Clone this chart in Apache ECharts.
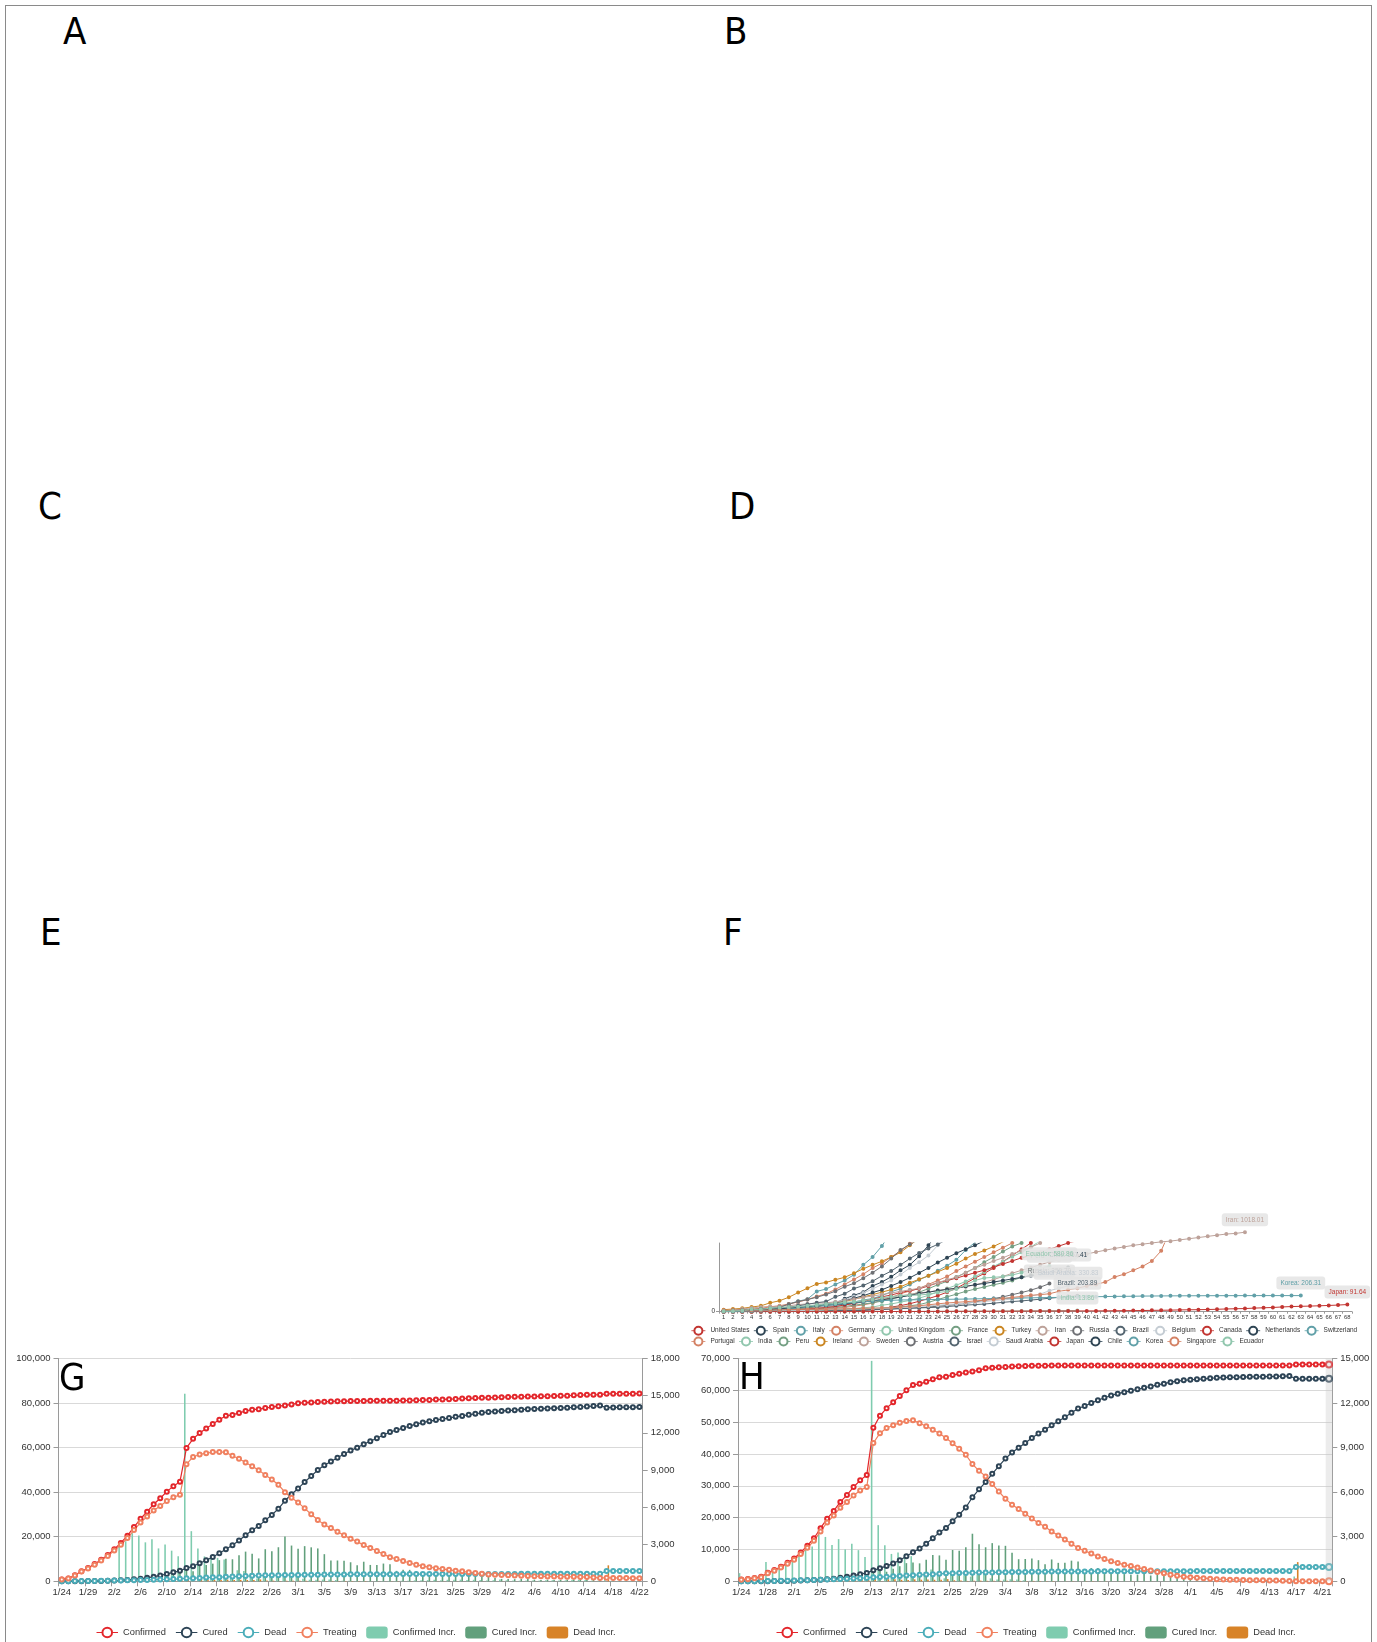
<!DOCTYPE html>
<html>
<head>
<meta charset="utf-8">
<script src="https://cdn.jsdelivr.net/npm/echarts@6/dist/echarts.min.js"></script>
<style>
html,body{margin:0;padding:0;background:#fff;}
#wrap{position:relative;width:1377px;height:1642px;overflow:hidden;background:#fff;}
.frame{position:absolute;left:5px;top:5px;width:1367px;height:1660px;border:1px solid #8a8a8a;box-sizing:border-box;}
.lt{position:absolute;font-family:'Liberation Sans Narrow','DejaVu Sans Condensed','Liberation Sans',sans-serif;font-size:38px;line-height:38px;color:#000;}
.ch{position:absolute;left:0;top:0;width:1377px;height:1642px;}
</style>
</head>
<body>
<div id="wrap">
  <div class="frame"></div>
  <div class="lt" style="left:63px;top:12px;">A</div>
  <div class="lt" style="left:724px;top:12px;">B</div>
  <div class="lt" style="left:38px;top:487px;">C</div>
  <div class="lt" style="left:729px;top:487px;">D</div>
  <div class="lt" style="left:40px;top:913px;">E</div>
  <div class="lt" style="left:723px;top:913px;">F</div>
  <div id="chartF" class="ch"></div>
  <div id="chartG" class="ch"></div>
  <div id="chartH" class="ch"></div>
  <div class="lt" style="left:59px;top:1358px;">G</div>
  <div class="lt" style="left:739px;top:1357px;">H</div>
</div>
<script>
const FONT = 'Liberation Sans, Arial, sans-serif';

// ---------- Panel G (national) cumulative values ----------
const gConfirmed = [835,1295,2759,4532,5993,7731,9714,11821,14413,17240,
  20475,24363,28064,31212,34602,37260,40235,42710,44731,59885,
  63935,66579,68589,70641,72533,74285,74679,75572,76397,77047,
  77264,77773,78183,78624,78955,79385,79967,80173,80303,80424,
  80566,80712,80818,80865,80907,80930,80961,80982,81007,81028,
  81058,81089,81133,81172,81247,81334,81429,81547,81626,81748,
  81864,81998,82109,82232,82338,82407,82496,82632,82712,82786,
  82838,82907,82972,83029,83108,83195,83257,83331,83452,83575,
  83680,83735,83784,84139,84173,84197,84214,84229,84262];
const gCured = [34,38,51,60,103,124,171,243,330,477,
  635,895,1157,1545,2056,2656,3290,4006,4752,5925,
  6740,8115,9440,10866,12576,14402,16183,18294,20692,22924,
  24772,27363,29788,32540,36165,39053,41679,44520,47265,49920,
  52112,53796,55477,57142,58680,59980,61562,62884,64205,65638,
  67012,67855,68790,69716,70540,71275,71870,72380,72845,73308,
  73808,74218,74765,75165,75645,75995,76265,76460,76640,76815,
  77010,77240,77370,77475,77605,77715,77820,77950,78100,78280,
  78450,78650,78900,77950,78020,78080,78130,78170,78210];
const gDead = [25,41,80,106,132,170,213,259,304,361,
  425,490,563,636,723,812,909,1017,1114,1368,
  1381,1524,1666,1772,1870,2006,2121,2239,2348,2445,
  2595,2666,2718,2747,2791,2838,2873,2915,2946,2984,
  3015,3045,3073,3100,3122,3139,3161,3172,3179,3192,
  3202,3217,3230,3241,3249,3252,3259,3266,3275,3282,
  3288,3294,3299,3302,3307,3311,3312,3319,3325,3329,
  3334,3337,3339,3339,3341,3343,3345,3348,3348,3350,
  3350,3350,3351,4641,4641,4641,4641,4641,4641];
const gIncrStart = 9;

// ---------- Panel H (Hubei) cumulative values ----------
const hConfirmed = [549,729,1052,1423,2714,3554,4586,5806,7153,9074,
  11177,13522,16678,19665,22112,24953,27100,29631,31728,33366,
  48206,51986,54406,56249,58182,59989,61682,62031,62662,63454,
  64084,64287,64786,65187,65596,65914,66337,66907,67103,67217,
  67332,67466,67592,67666,67707,67743,67760,67773,67781,67786,
  67790,67794,67798,67799,67799,67800,67800,67800,67800,67800,
  67801,67801,67801,67801,67801,67801,67801,67801,67802,67802,
  67802,67803,67803,67803,67803,67803,67803,67803,67803,67803,
  67803,67803,67803,67803,68128,68128,68128,68128,68128,68128];
const hCured = [31,32,42,44,47,80,90,116,166,215,
  295,396,520,633,817,1115,1439,1795,2222,2639,
  3441,4131,4774,5623,6639,7862,9128,10337,11788,13557,
  15299,16748,18854,20912,23200,26403,28895,31187,33757,36167,
  38556,40479,41966,43468,45011,46433,47585,49056,50298,51553,
  52943,54278,55094,55987,56883,57682,58382,58946,59433,59879,
  60324,60811,61201,61732,62098,62570,62889,63153,63326,63471,
  63612,63762,63945,64014,64073,64119,64187,64236,64264,64281,
  64338,64363,64435,64481,63616,63616,63616,63616,63616,63616];
const hDead = [24,39,52,76,100,125,162,204,249,294,
  350,414,479,549,618,699,780,871,974,1068,
  1310,1318,1457,1596,1696,1789,1921,2029,2144,2250,
  2346,2495,2563,2615,2641,2682,2727,2761,2803,2834,
  2871,2902,2931,2959,2986,3007,3024,3046,3056,3062,
  3075,3085,3099,3111,3122,3130,3132,3139,3144,3153,
  3160,3163,3169,3174,3177,3182,3186,3187,3193,3199,
  3203,3207,3210,3212,3212,3212,3213,3215,3216,3216,
  3219,3219,3219,3221,4512,4512,4512,4512,4512,4512];
const hIncrStart = 0;

// ---------- Panel F (cases per million, days since 100th case) ----------
const fDays = [1,2,3,4,5,6,7,8,9,10,11,12,13,14,15,16,17,18,19,20,21,22,23,24,25,26,27,28,29,30,31,32,33,34,
  35,36,37,38,39,40,41,42,43,44,45,46,47,48,49,50,51,52,53,54,55,56,57,58,59,60,61,62,63,64,65,66,67,68];
const fUnitedStates = [0.3,0.4,0.5,0.6,0.8,1.0,1.3,1.7,2.2,3.0,4.0,5.2,6.6,9,12,17,26,42,59,78,102,134,168,205,250,300,365,430,490,560,640,720,800,880,960,1040];
const fSpain = [2.6,3.6,4.6,5.5,8,10,13,22,36,47,64,97,110,166,210,250,330,380,447,530,600,710,850,1010];
const fItaly = [2.6,3.8,5.4,6.5,8,11,19,28,35,43,51,64,77,100,122,150,168,206,256,294,349,410,460,525,590,665,790,888,980];
const fGermany = [1.6,1.9,2.4,3.2,4.8,7.2,9.6,12.5,14,21,25,32,44,55,70,88,110,150,180,230,265,300,350,400,450,520,580,640,700,760,820,880,950];
const fUnitedKingdom = [1.7,2.4,3.1,4.1,4.8,6.2,7.0,8.9,12,17,20,24,29,35,40,50,60,83,99,123,144,174,209,255,297,340,388,450,510,580,640,705,760,825,911,990];
const fFrance = [1.5,2.9,3.2,3.8,6.3,9.6,14,17,22,25,34,43,54,67,84,98,115,135,160,190,215,250,295,345,390,445,500,560,635,700,770,836,880,955];
const fTurkey = [2.3,3.6,8,11,14,19,23,29,40,52,66,87,110,130,158,189,219,250,283,320,370,415,460,510,560,615,680,740,784,836,894,946,992,1050];
const fIran = [1.6,2.9,4.5,6.7,9.1,12.8,16.3,23,30.5,38.6,47.8,56,70,85,106,122,140,164,193,205,
  221,240,254,270,290,300,320,343,375,412,450,493,530,563,602,637,667,695,718,740,
  764,788,810,830,850,865,880,895,904,920,935,950,965,980,995,1003,1018.01];
const fRussia = [0.8,1.0,1.3,1.4,2.0,2.5,3.0,3.4,4.2,5.4,7.4,9.3,10.4,12.4,16,19,23.6,28,34,40,45,51,60,71,81,92,106,124,145,168,190,218,245,276,314,359.79];
const fBrazil = [0.57,0.95,1.0,1.4,1.9,2.8,3.8,4.8,7.5,9.4,11,13,14.6,17,18.5,21,27,32,35,41,45,48.7,53,57,66,75,85,91,98,109,120,130,138,149,160,173,183,194,203.89];
const fBelgium = [9.5,14,17.4,23,27,34,43,48.6,60,77,90,107,128,150,196,240,290,350,400,475,560,633,720,850,1035];
const fCanada = [3.1,5.2,6.2,8.5,11,13.6,16.7,21,26,34,40,54,65,86,106,130,160,190,214,245,270,293,330,370,400,430,465,500,532,570,610,650,690,720,760,800,840,880,910,960,1010];
const fNetherlands = [7.4,11,15,18,22,27,36,46,56,65,77,95,110,139,173,205,245,280,330,380,435,497,560,630,690,750,800,850,909,960];
const fSwitzerland = [13,17,24,31,39,43,57,100,135,160,260,290,350,400,474,600,700,842,1020];
const fPortugal = [10.9,16,24,32,43,62,76,99,125,155,195,230,285,350,414,480,560,620,700,780,870,960,1030];
const fIndia = [0.07,0.08,0.09,0.1,0.14,0.17,0.21,0.24,0.37,0.45,0.53,0.6,0.65,0.72,0.8,0.9,1.0,1.2,1.4,1.8,2.0,2.4,3.0,3.5,4.0,4.5,5.0,5.6,6.0,6.8,7.5,8.4,9.1,9.8,10.4,10.9,12.1,13.0,13.86];
const fPeru = [3.6,4.4,5.4,7.1,8.3,9.4,11.2,12,13,15,18.6,22,25.6,29.6,33,36.8,41,44.5,55,62,76,91,120,156,190,225,260,290,317,345,370,400,440,470,510,548.61];
const fIreland = [26,34,43,60,75,114,140,185,245,300,355,375,410,440,493,550,600,645,700,760,850,940,1010];
const fSweden = [13,20,35,48,60,67,70,76,91,100,110,115,125,140,160,185,200,220,240,260,280,300,340,370,410,440,500,560,600,650,690,740,780,825,880,950,1010];
const fAustria = [11.7,14,20,25,34,41,56,97,130,155,185,220,262,320,364,430,500,580,680,790,864,929,1000];
const fIsrael = [12,14,17,22,28,33,47,58,75,95,115,130,190,230,296,335,390,460,520,600,680,753,810,862,926,990];
const fSaudiArabia = [3,3.4,4.4,5.9,7.2,8.8,10,11,14,15.5,18,25,32,35,37,39,42,45,50,55,60,69,75,83,92,100,110,118,128,142,150,163,180,200,225,269,300,330.83];
const fJapan = [0.5,0.55,0.6,0.65,0.7,0.75,0.8,0.84,0.9,1.0,1.1,1.2,1.3,1.4,1.6,1.7,1.9,2.0,2.2,2.6,
  2.9,3.3,3.7,4.0,4.3,4.6,5.0,5.3,5.6,6.0,6.4,6.9,7.3,7.7,8.0,8.3,8.8,9.2,9.5,10,
  10.5,11,12,13,13.8,15,17.3,18.5,20,23,24.5,26,28,31,35,38,40,46,50,54,61,66,69,72,76,80,85,91.64];
const fChile = [8,10,12,18,23,28,32,33,48,60,72,80,93,102,112,126,137,152,170,188,208,234,250,270,285,300,325,345,362,380,400,420,440,460,480,505,528,567.41];
const fKorea = [2.0,3.8,6.0,8.6,12,17.6,24,34,44,57,72,82,96,108,119,127,136,142,146,150,
  152,153,155,157,159,160,162,164,167,169,171,173,175,177,180,182,183,185,187,190,
  192,194,196,197,198,200,201,202,203,203.5,204,204.5,205,205.3,205.6,205.8,206,206.1,206.2,206.25,206.28,206.3,206.31];
const fSingapore = [18.6,19,19.5,20,20.5,22,24,28,29,30,31,32,34,37,40,43,46,48,51,59,68,76,89,101,112,120,128,138,148,156,169,183,195,210,218,230,260,280,300,330,350,380,444,480,530,580,649,780,1050];
const fEcuador = [6.3,9.4,15,30,30,45,54,60,65,75,85,100,107,120,127,145,155,180,192,205,210,213,225,245,260,290,340,400,432,440,450,470,500,540,560,580.86];

const fCountries = ['United States','Spain','Italy','Germany','United Kingdom','France','Turkey','Iran','Russia','Brazil','Belgium','Canada','Netherlands','Switzerland',
  'Portugal','India','Peru','Ireland','Sweden','Austria','Israel','Saudi Arabia','Japan','Chile','Korea','Singapore','Ecuador'];
const fValues = [fUnitedStates,fSpain,fItaly,fGermany,fUnitedKingdom,fFrance,fTurkey,fIran,fRussia,fBrazil,fBelgium,fCanada,fNetherlands,fSwitzerland,
  fPortugal,fIndia,fPeru,fIreland,fSweden,fAustria,fIsrael,fSaudiArabia,fJapan,fChile,fKorea,fSingapore,fEcuador];
const fLabeled = ['Iran','Russia','Brazil','India','Peru','Saudi Arabia','Japan','Chile','Korea','Ecuador'];
const fPalette = ['#c23531','#2f4554','#61a0a8','#d48265','#91c7ae','#749f83','#ca8622','#bda29a','#6e7074','#546570','#c4ccd3'];

// ---------- helpers ----------
function dayLabels(m, d, n) {
  const mdays = [0,31,29,31,30,31];
  const out = [];
  for (let k = 0; k < n; k++) {
    out.push(m + '/' + d);
    d++;
    if (d > mdays[m]) { d = 1; m++; }
  }
  return out;
}
const gDates = ['1/24'].concat(dayLabels(1, 26, 88));
const hDates = dayLabels(1, 24, 90);

function diffs(arr, start) {
  return arr.map((v, i) => i < start ? null : (i === 0 ? v : v - arr[i - 1]));
}

const COL = {
  confirmed: '#e3262b', cured: '#2d4456', dead: '#4badb9', treating: '#f0805f',
  confIncr: '#7fccaf', curedIncr: '#62a07c', deadIncr: '#d88328'
};

function lineS(name, data, color) {
  return {
    name, type: 'line', data, yAxisIndex: 0,
    symbol: 'emptyCircle', symbolSize: 4, showSymbol: true, showAllSymbol: true,
    color, lineStyle: { width: 1.2, color }, itemStyle: { color, borderWidth: 0.9 },
    emphasis: { disabled: true }, z: 3
  };
}
function barS(name, data, color) {
  return { name, type: 'bar', data, yAxisIndex: 1, color, itemStyle: { color }, emphasis: { disabled: true }, z: 2 };
}

function makeCombo(cfg) {
  const treating = cfg.conf.map((c, i) => c - cfg.cured[i] - cfg.dead[i]);
  const series = [
    lineS('Confirmed', cfg.conf, COL.confirmed),
    lineS('Cured', cfg.cured, COL.cured),
    lineS('Dead', cfg.dead, COL.dead),
    lineS('Treating', treating, COL.treating),
    barS('Confirmed Incr.', diffs(cfg.conf, cfg.incrStart), COL.confIncr),
    barS('Cured Incr.', diffs(cfg.cured, cfg.incrStart), COL.curedIncr),
    barS('Dead Incr.', diffs(cfg.dead, cfg.incrStart), COL.deadIncr)
  ];
  const axisGrey = '#9a9a9a';
  return {
    animation: false,
    textStyle: { fontFamily: FONT },
    tooltip: cfg.tooltip || { show: false },
    grid: { left: cfg.left, right: cfg.right, top: 1358.5, bottom: 60.7, outerBoundsMode: 'none', containLabel: false },
    legend: {
      left: cfg.legendLeft, top: 1621.5, padding: 5,
      itemWidth: 21.5, itemHeight: 12, itemGap: 9.5,
      lineStyle: { width: 1 },
      textStyle: { fontSize: 9.3, color: '#333', fontFamily: FONT },
      data: ['Confirmed','Cured','Dead','Treating','Confirmed Incr.','Cured Incr.','Dead Incr.']
    },
    xAxis: {
      type: 'category', data: cfg.dates, boundaryGap: true,
      axisLine: { show: true, lineStyle: { color: axisGrey } },
      axisTick: { show: true, interval: 3, length: 5, lineStyle: { color: axisGrey } },
      axisLabel: { interval: 3, color: '#333', fontSize: 9.5, margin: 6, fontFamily: FONT },
      splitLine: { show: false }
    },
    yAxis: [
      {
        type: 'value', min: 0, max: cfg.leftMax, interval: cfg.leftInt, position: 'left',
        axisLine: { show: true, lineStyle: { color: axisGrey } },
        axisTick: { show: true, length: 5, lineStyle: { color: axisGrey } },
        axisLabel: { color: '#333', fontSize: 9.5, margin: 8, fontFamily: FONT },
        splitLine: { show: true, lineStyle: { color: '#d9d9d9', width: 1 } }
      },
      {
        type: 'value', min: 0, max: cfg.rightMax, interval: 3000, position: 'right',
        axisLine: { show: true, lineStyle: { color: axisGrey } },
        axisTick: { show: true, length: 5, lineStyle: { color: axisGrey } },
        axisLabel: { color: '#333', fontSize: 9.5, margin: 8, fontFamily: FONT },
        splitLine: { show: false }
      }
    ],
    series
  };
}

// ---------- chart G ----------
const chartG = echarts.init(document.getElementById('chartG'), null, { renderer: 'canvas', width: 1377, height: 1642 });
chartG.setOption(makeCombo({
  left: 58.5, right: 1377 - 642.7, dates: gDates,
  conf: gConfirmed, cured: gCured, dead: gDead, incrStart: gIncrStart,
  leftMax: 100000, leftInt: 20000, rightMax: 18000, legendLeft: 91
}));

// ---------- chart H ----------
const chartH = echarts.init(document.getElementById('chartH'), null, { renderer: 'canvas', width: 1377, height: 1642 });
chartH.setOption(makeCombo({
  left: 738, right: 1377 - 1332.3, dates: hDates,
  conf: hConfirmed, cured: hCured, dead: hDead, incrStart: hIncrStart,
  leftMax: 70000, leftInt: 10000, rightMax: 15000, legendLeft: 771,
  tooltip: { show: true, trigger: 'axis', triggerOn: 'none', showContent: false,
    axisPointer: { type: 'shadow', shadowStyle: { color: 'rgba(200,200,200,0.35)' } } }
}));
chartH.dispatchAction({ type: 'showTip', seriesIndex: 0, dataIndex: hDates.length - 1 });

// ---------- chart F ----------
const chartF = echarts.init(document.getElementById('chartF'), null, { renderer: 'canvas', width: 1377, height: 1642 });
const fSeries = fCountries.map((name, k) => {
  const color = fPalette[k % fPalette.length];
  const vals = fValues[k];
  const withLabel = fLabeled.indexOf(name) >= 0;
  const data = vals.map((v, i) => (withLabel && i === vals.length - 1) ? { value: v, label: { show: true } } : v);
  return {
    name, type: 'line', data, color,
    symbol: 'emptyCircle', symbolSize: 2, showSymbol: true, showAllSymbol: true,
    lineStyle: { width: 1, color }, itemStyle: { color, borderWidth: 0.6 },
    clip: name !== 'Iran',
    emphasis: { disabled: true },
    label: {
      show: false, position: 'top', distance: 4,
      formatter: p => p.seriesName + ': ' + p.value,
      fontSize: 6.5, color, fontFamily: FONT,
      backgroundColor: 'rgba(228,228,228,0.85)', padding: [3, 4], borderRadius: 3
    }
  };
});
const legendCommon = {
  itemWidth: 14, itemHeight: 10, itemGap: 4, padding: 5,
  lineStyle: { width: 0.8 },
  textStyle: { fontSize: 6.5, color: '#333', fontFamily: FONT }
};
chartF.setOption({
  animation: false,
  textStyle: { fontFamily: FONT },
  grid: { left: 719, right: 1377 - 1352, top: 1243, bottom: 1642 - 1311.7, outerBoundsMode: 'none', containLabel: false },
  legend: [
    Object.assign({ left: 686, top: 1320.7, data: fCountries.slice(0, 14) }, legendCommon),
    Object.assign({ left: 686, top: 1331.5, data: fCountries.slice(14) }, legendCommon)
  ],
  xAxis: {
    type: 'category', data: fDays, boundaryGap: true,
    axisLine: { show: true, lineStyle: { color: '#999' } },
    axisTick: { show: true, interval: 0, length: 2, lineStyle: { color: '#999' } },
    axisLabel: { interval: 0, fontSize: 5.8, color: '#333', margin: 3, fontFamily: FONT }
  },
  yAxis: {
    type: 'value', min: 0, max: 880, interval: 1000,
    axisLine: { show: true, lineStyle: { color: '#999' } },
    axisTick: { show: true, length: 3, lineStyle: { color: '#999' } },
    axisLabel: { fontSize: 6.5, color: '#333', margin: 4, showMaxLabel: false, formatter: v => v === 0 ? '0' : '' },
    splitLine: { show: false }
  },
  series: fSeries
});
</script>
</body>
</html>
